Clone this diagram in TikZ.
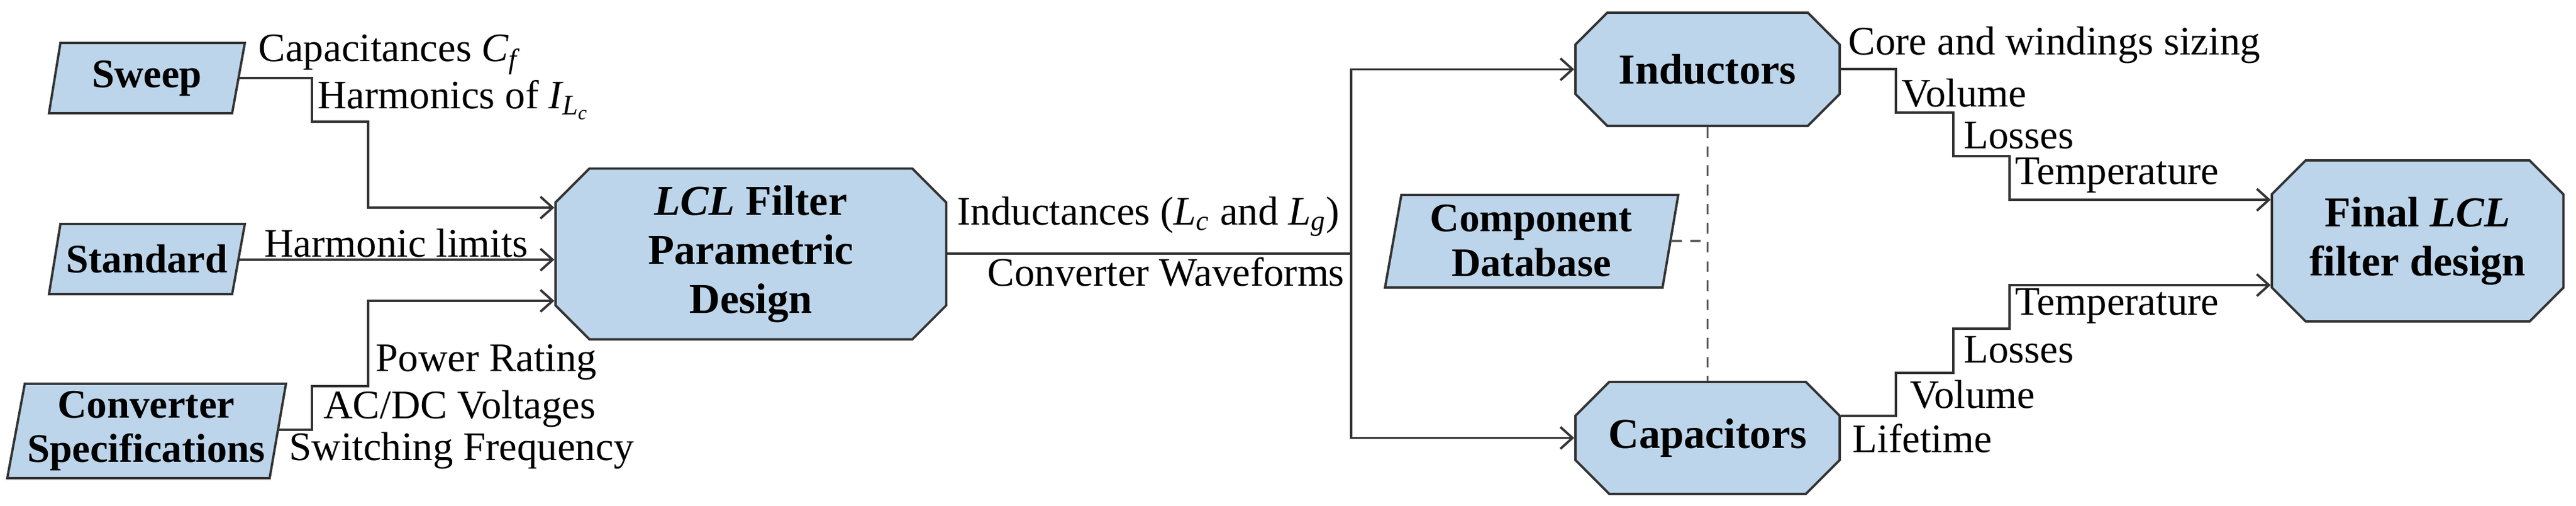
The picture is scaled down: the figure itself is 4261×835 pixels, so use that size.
\documentclass[tikz,border=0pt]{standalone}
\usepackage{fontspec}
\setmainfont{Liberation Serif}
\usetikzlibrary{arrows.meta,shapes.misc}
\definecolor{boxfill}{HTML}{BDD5EA}
\definecolor{ln}{HTML}{333333}
\begin{document}
\begin{tikzpicture}[x=0.01cm,y=-0.01cm,
  every node/.style={font=\fontsize{19}{21}\selectfont},
  lbl/.style={anchor=west,inner sep=0pt},
  blk/.style={chamfered rectangle,chamfered rectangle xsep=0.28cm,chamfered rectangle ysep=0.28cm,draw=ln,line width=1.1pt,fill=boxfill,inner sep=0pt,align=center,font=\fontsize{20}{23}\selectfont\bfseries},
  para/.style={draw=ln,line width=1.1pt,fill=boxfill},
  ptxt/.style={align=center,inner sep=0pt,font=\fontsize{19}{21}\selectfont\bfseries},
  con/.style={draw=ln,line width=1.1pt,-{Straight Barb[length=0.2cm,width=0.36cm,line width=1.1pt]}},
  dsh/.style={draw=ln!80,line width=0.9pt,dash pattern=on 5pt off 4pt}]
\useasboundingbox (0,0) rectangle (4261,835);
% parallelograms
\draw[para] (100,71) -- (405,71) -- (384,187) -- (81,187) -- cycle;
\node[ptxt] (sweep) at (243,129) {Sweep};
\coordinate (sweepo) at (394,129);
\draw[para] (100,370) -- (405,370) -- (384,486) -- (81,486) -- cycle;
\node[ptxt] (std) at (243,428) {Standard};
\coordinate (stdo) at (394,429);
\draw[para] (41,634) -- (473,634) -- (446,790) -- (12,790) -- cycle;
\node[ptxt] (conv) at (242,712) {Converter\\Specifications};
\coordinate (convo) at (460,710);
\draw[para] (2318,322) -- (2776,322) -- (2750,475) -- (2291,475) -- cycle;
\node[ptxt] (db) at (2533,398) {Component\\Database};
\coordinate (dbo) at (2764,398);
% blocks
\node[blk,minimum width=6.46cm,minimum height=2.55cm] (lcl) at (1242,419.5) {\textit{LCL} Filter\\Parametric\\Design};
\node[blk,minimum width=4.37cm,minimum height=1.87cm] (ind) at (2824.5,114.5) {Inductors};
\node[blk,minimum width=4.37cm,minimum height=1.85cm] (cap) at (2824.5,723.5) {Capacitors};
\node[blk,minimum width=4.82cm,minimum height=2.66cm] (fin) at (3999,398) {Final \textit{LCL}\\filter design};
% left connectors
\draw[con] (sweepo) -| (516,201) -| (609,343) -- (lcl.west |- 0,343);
\draw[con] (stdo) -- (lcl.west |- 0,429);
\draw[con] (convo) -| (516,638) -| (609,497) -- (lcl.west |- 0,497);
\node[lbl] at (427,90) {Capacitances \textit{C\textsubscript{f}}};
\node[lbl] at (525,165) {Harmonics of \textit{I\textsubscript{L\textsubscript{c}}}};
\node[lbl] at (437,402) {Harmonic limits};
\node[lbl] at (621,599) {Power Rating};
\node[lbl] at (535,676) {AC/DC Voltages};
\node[lbl] at (478,745) {Switching Frequency};
% middle
\coordinate (br) at (2235,419);
\draw[draw=ln,line width=1.1pt] (lcl.east |- 0,419) -- (br);
\draw[con] (br) |- (ind.west);
\draw[con] (br) |- (cap.west);
\node[lbl] at (1583,358) {Inductances (\textit{L\textsubscript{c}} and \textit{L\textsubscript{g}})};
\node[lbl] at (1633,449) {Converter Waveforms};
\draw[dsh] (ind.south) -- (cap.north);
\draw[dsh] (dbo) -- (ind.south |- dbo);
% right connectors
\draw[con] (ind.east |- 0,114) -| (3136,186) -| (3231,258) -| (3324,330) -- (fin.west |- 0,330);
\draw[con] (cap.east |- 0,687) -| (3136,616) -| (3231,543) -| (3324,471) -- (fin.west |- 0,471);
\node[lbl] at (3057,75) {Core and windings sizing};
\node[lbl] at (3145,154) {Volume};
\node[lbl] at (3248,224) {Losses};
\node[lbl] at (3333,290) {Temperature};
\node[lbl] at (3333,506) {Temperature};
\node[lbl] at (3248,578) {Losses};
\node[lbl] at (3159,652) {Volume};
\node[lbl] at (3064,724) {Lifetime};
\end{tikzpicture}
\end{document}
